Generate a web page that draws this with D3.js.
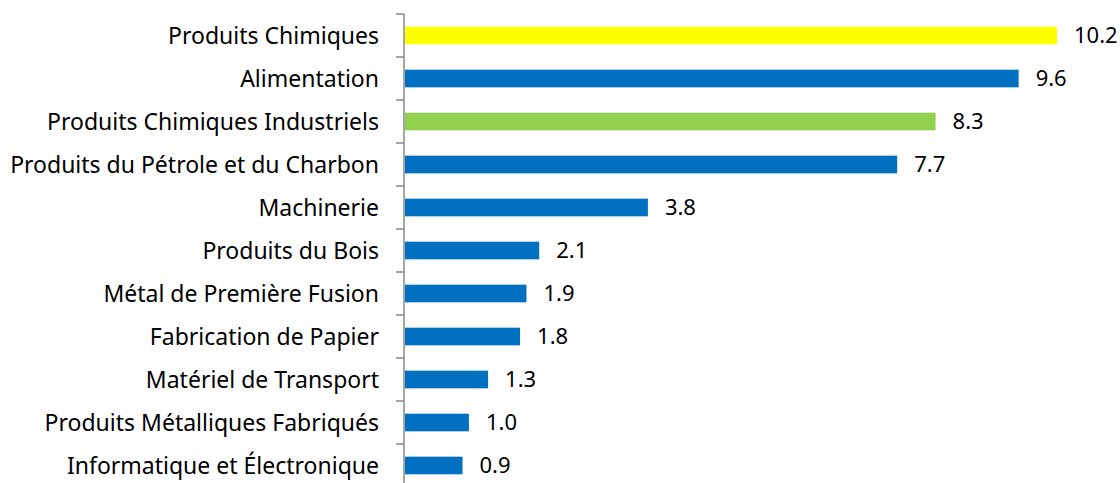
<!DOCTYPE html>
<html>
<head>
<meta charset="utf-8">
<script src="https://cdn.jsdelivr.net/npm/d3@7"></script>
<style>
  html, body { margin: 0; padding: 0; background: #fff; }
  svg { display: block; font-family: "Noto Sans", "Open Sans", sans-serif; }
</style>
</head>
<body>
<div id="chart"></div>
<script>
const categories = [
  "Produits Chimiques",
  "Alimentation",
  "Produits Chimiques Industriels",
  "Produits du Pétrole et du Charbon",
  "Machinerie",
  "Produits du Bois",
  "Métal de Première Fusion",
  "Fabrication de Papier",
  "Matériel de Transport",
  "Produits Métalliques Fabriqués",
  "Informatique et Électronique"
];
const values = [10.2, 9.6, 8.3, 7.7, 3.8, 2.1, 1.9, 1.8, 1.3, 1.0, 0.9];
const barColors = ["#FFFF00", "#0070C0", "#92D050", "#0070C0", "#0070C0", "#0070C0",
                   "#0070C0", "#0070C0", "#0070C0", "#0070C0", "#0070C0"];

const width = 1120, height = 483;
const axisX = 404, plotTop = 14, band = 43;

const svg = d3.select("#chart").append("svg")
  .attr("width", width)
  .attr("height", height);

const x = d3.scaleLinear().domain([0, 10.2]).range([axisX + 1, 1057]);
const y = d3.scaleBand().domain(categories)
  .range([plotTop, plotTop + band * categories.length])
  .paddingInner(0.59).paddingOuter(0.295);

// bars
svg.selectAll("rect.bar")
  .data(categories)
  .enter()
  .append("rect")
  .attr("class", "bar")
  .attr("x", x(0))
  .attr("y", d => y(d))
  .attr("width", (d, i) => x(values[i]) - x(0))
  .attr("height", y.bandwidth())
  .attr("fill", (d, i) => barColors[i]);

// value labels
svg.selectAll("text.val")
  .data(categories)
  .enter()
  .append("text")
  .attr("class", "val")
  .attr("x", (d, i) => x(values[i]) + 17)
  .attr("y", d => y(d) + y.bandwidth() / 2)
  .attr("dy", "0.36em")
  .attr("font-size", 22)
  .attr("fill", "#000")
  .text((d, i) => values[i].toFixed(1));

// category labels
svg.selectAll("text.cat")
  .data(categories)
  .enter()
  .append("text")
  .attr("class", "cat")
  .attr("x", axisX - 25)
  .attr("y", d => y(d) + y.bandwidth() / 2)
  .attr("dy", "0.36em")
  .attr("text-anchor", "end")
  .attr("font-size", 23)
  .attr("fill", "#000")
  .text(d => d);

// axis line and tick marks between categories
svg.append("line")
  .attr("x1", axisX).attr("x2", axisX)
  .attr("y1", plotTop).attr("y2", height)
  .attr("stroke", "#898989").attr("stroke-width", 1.5);

const tickYs = d3.range(categories.length).map(i => plotTop + i * band);
svg.selectAll("line.tick")
  .data(tickYs)
  .enter()
  .append("line")
  .attr("class", "tick")
  .attr("x1", axisX - 8).attr("x2", axisX)
  .attr("y1", d => d).attr("y2", d => d)
  .attr("stroke", "#898989").attr("stroke-width", 1.5);
</script>
</body>
</html>
